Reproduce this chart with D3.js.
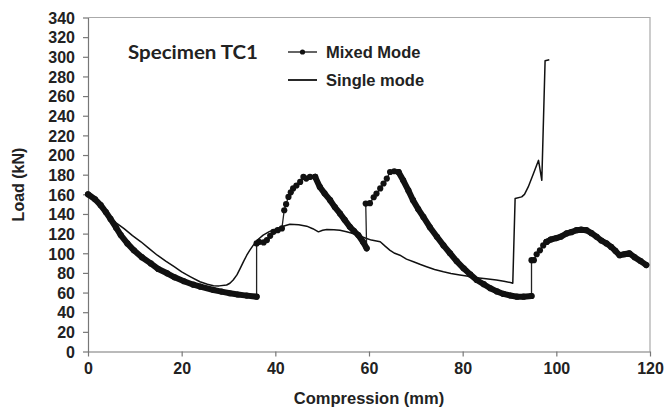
<!DOCTYPE html>
<html>
<head>
<meta charset="utf-8">
<script src="https://cdn.jsdelivr.net/npm/d3@7"></script>
<style>
  body { margin: 0; background: #fff; }
  svg { display: block; }
  .axis text { font-family: "Liberation Sans", Arial, sans-serif; font-weight: bold; font-size: 16px; fill: #222; }
  .axis path, .axis line { stroke: #777; stroke-width: 1.2px; }
</style>
</head>
<body>
<div id="chart"></div>
<script>
// Compression (mm) vs Load (kN)

// Mixed Mode, split into runs: dense runs look like a thick line of markers
const mixedDense1 = [[0,160],[1.5,155],[2.7,149],[3.8,142],[4.8,135],[6,126],[7,118.5],[8.4,110],[9.8,103],[11.5,96],[13.4,89.7],[15,84],[16.9,79.6],[18.5,75.5],[20.5,71.5],[22.5,68],[24,66],[26.8,62.6],[28.5,61],[30.3,59.3],[32,58],[33.9,56.9],[36,55.8]];
const mixedSparse1 = [[36,110],[36.5,111.5],[37.5,111],[38.2,113.4],[38.9,117.8],[39.6,121.8],[40.5,123.5],[41.4,125.3]];
const mixedSparse2 = [[41.9,143.8],[42.3,150],[42.8,157.4],[43.3,162],[43.8,166],[44.5,169],[45.3,172.6],[46,177.7],[46.6,176],[47.4,177.7],[48.5,177.7]];
const mixedDense2 = [[48.5,177.7],[49.5,167.5],[50.5,161],[51.7,154],[52.7,147],[53.8,140.5],[54.8,134],[55.9,127],[56.8,122.5],[57.7,118.5],[58.7,111.7],[59.5,105]];
const mixedSparse3 = [[59.3,150.6],[60.2,151],[61,157],[61.6,160.8],[62.4,166],[63.1,171],[63.8,176],[64.5,182.7],[65.4,183.5],[66.3,182.7]];
const mixedDense3 = [[66.3,182.7],[67.3,174.3],[68.4,164],[69.4,154],[70.5,145],[71.6,137],[73,126.5],[74.5,116.8],[75.9,108],[77.3,100],[78.7,92],[80.2,84.7],[81.6,78.5],[83,72.8],[84.5,68.5],[85.9,64.4],[87.3,61.2],[88.7,58.6],[90.2,57],[91.6,55.8],[93,55.8],[94.7,56.5]];
const mixedSparse4 = [[94.7,93],[95.2,93],[95.8,99],[96.5,103],[97.2,108],[97.9,111.5]];
const mixedDense4 = [[97.9,111.5],[98.8,114],[100,115.5],[101,117],[102.2,120.2],[103.2,121.5],[104.3,123.5],[105.3,124],[106.4,123.5],[107.5,120.5],[108.6,116.8],[109.6,113],[110.7,110],[111.7,106.5],[112.6,102.5],[113.5,98],[114.5,99],[115.6,100],[116.7,96],[118,92],[119.2,88]];

const mixedRuns = [
    {pts: mixedDense1, dense: true},
    {pts: mixedSparse1, dense: false},
    {pts: mixedSparse2, dense: false},
    {pts: mixedDense2, dense: true},
    {pts: mixedSparse3, dense: false},
    {pts: mixedDense3, dense: true},
    {pts: mixedSparse4, dense: false},
    {pts: mixedDense4, dense: true}
];

// Single mode
const singleMode = [[0,160],[2.7,150],[4.8,137],[6,131],[7.7,125],[9.5,118],[11.3,111.7],[13,105],[14.8,98],[16.6,92],[18.4,86.3],[20,81],[21.9,76],[23.9,71],[25.5,68.5],[26.8,67],[28,66.8],[29.6,67.7],[30.3,69.5],[31,72.8],[31.8,78],[32.5,84.7],[33.2,91.5],[33.9,98],[34.6,103.5],[35.3,108.3],[36.3,114],[37.4,118.5],[38.7,122],[40.3,125],[41.7,127.5],[43.1,129.6],[45,129],[46.7,127.6],[48,125],[49.2,121.8],[50.1,123.5],[51,124.3],[52.5,124],[53.8,123.5],[55.2,122],[56.6,120.2],[58,117.5],[59.5,115],[60.5,113.4],[62.4,111.7],[63.5,107],[64.5,103],[65.5,100],[66.6,98],[68,94],[69.5,91.4],[71,88.5],[72.3,86.3],[74,83.5],[75.9,81.2],[77.5,79.5],[79.4,77.9],[81.2,76.5],[83,75.1],[85,74],[87.2,72.8],[88.8,71.5],[90.4,70],[90.7,69.4],[91.2,155.7],[92.6,157.4],[93.2,160],[94,167.5],[95.1,181],[96.2,194.6],[96.9,174.3],[97.6,296],[98.5,297]];

const xTicks = [0, 20, 40, 60, 80, 100, 120];
const yTicks = d3.range(0, 341, 20);

const W = 665, H = 412;
const margin = {top: 17.5, right: 15, bottom: 60.5, left: 88};
const width = W - margin.left - margin.right;
const height = H - margin.top - margin.bottom;

const svg = d3.select("#chart").append("svg")
    .attr("width", W)
    .attr("height", H)
  .append("g")
    .attr("transform", `translate(${margin.left},${margin.top})`);

const x = d3.scaleLinear().domain([0, 120]).range([0, width]);
const y = d3.scaleLinear().domain([0, 340]).range([height, 0]);

// plot frame (top + right)
svg.append("path")
    .attr("d", `M0,0H${width}V${height}`)
    .attr("fill", "none")
    .attr("stroke", "#aaa")
    .attr("stroke-width", 1.2);

// X axis
svg.append("g")
    .attr("class", "axis")
    .attr("transform", `translate(0,${height})`)
    .call(d3.axisBottom(x).tickValues(xTicks).tickSize(5).tickSizeOuter(0).tickPadding(6));

// Y axis
svg.append("g")
    .attr("class", "axis")
    .call(d3.axisLeft(y).tickValues(yTicks).tickSize(5).tickSizeOuter(0).tickPadding(8))
    .selectAll("text").attr("dy", "0.36em");

// axis titles
svg.append("text")
    .attr("x", width / 2)
    .attr("y", height + 52)
    .attr("text-anchor", "middle")
    .style("font-family", "Liberation Sans, Arial, sans-serif")
    .style("font-weight", "bold")
    .style("font-size", "16.5px")
    .style("fill", "#222")
    .text("Compression (mm)");

svg.append("text")
    .attr("transform", `translate(${-margin.left + 24},${height / 2}) rotate(-90)`)
    .attr("text-anchor", "middle")
    .style("font-family", "Liberation Sans, Arial, sans-serif")
    .style("font-weight", "bold")
    .style("font-size", "16px")
    .style("fill", "#222")
    .text("Load (kN)");

const line = d3.line()
    .x(d => x(d[0]))
    .y(d => y(d[1]));

// Single mode line
svg.append("path")
    .datum(singleMode)
    .attr("fill", "none")
    .attr("stroke", "#111")
    .attr("stroke-width", 1.5)
    .attr("stroke-linejoin", "round")
    .attr("d", line);

// Mixed mode: thin connector through every point
const mixedAll = mixedRuns.flatMap(r => r.pts);
svg.append("path")
    .datum(mixedAll)
    .attr("fill", "none")
    .attr("stroke", "#222")
    .attr("stroke-width", 1.3)
    .attr("d", line);

// thick strokes where markers are packed together
svg.selectAll(".dense")
    .data(mixedRuns.filter(r => r.dense))
    .enter().append("path")
    .attr("class", "dense")
    .attr("fill", "none")
    .attr("stroke", "#111")
    .attr("stroke-width", 6)
    .attr("stroke-linecap", "round")
    .attr("stroke-linejoin", "round")
    .attr("d", d => line(d.pts));

// markers
svg.selectAll(".dot")
    .data(mixedAll)
    .enter().append("circle")
    .attr("class", "dot")
    .attr("cx", d => x(d[0]))
    .attr("cy", d => y(d[1]))
    .attr("r", 3.1)
    .attr("fill", "#111");

// title + legend
svg.append("text")
    .attr("x", 128 - margin.left)
    .attr("y", 59 - margin.top)
    .attr("textLength", 130)
    .attr("lengthAdjust", "spacingAndGlyphs")
    .style("font-family", "Lato, sans-serif")
    .style("font-weight", "bold")
    .style("font-size", "19px")
    .style("fill", "#222")
    .text("Specimen TC1");

const legendItems = [
    {label: "Mixed Mode", marker: true},
    {label: "Single mode", marker: false}
];

const legend = svg.append("g")
    .attr("transform", `translate(${288 - margin.left},${52 - margin.top})`);

const li = legend.selectAll("g")
    .data(legendItems)
    .enter().append("g")
    .attr("transform", (d, i) => `translate(0,${i * 28})`);

li.append("line")
    .attr("x1", 0).attr("x2", 29)
    .attr("stroke", "#111")
    .attr("stroke-width", d => d.marker ? 1.3 : 1.8);

li.filter(d => d.marker).append("circle")
    .attr("cx", 14.5)
    .attr("r", 2.6)
    .attr("fill", "#111");

li.append("text")
    .attr("x", 38)
    .attr("dy", "0.36em")
    .style("font-family", "Liberation Sans, Arial, sans-serif")
    .style("font-weight", "bold")
    .style("font-size", "16.5px")
    .style("fill", "#222")
    .text(d => d.label);
</script>
</body>
</html>
